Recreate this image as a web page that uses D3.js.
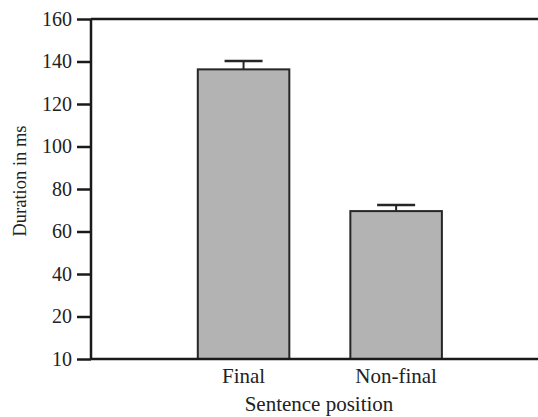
<!DOCTYPE html>
<html>
<head>
<meta charset="utf-8">
<script src="https://cdn.jsdelivr.net/npm/d3@7"></script>
<style>
  body { margin: 0; background: #fff; }
</style>
</head>
<body>
<div id="chart"></div>
<script>
// data
var categories = ["Final", "Non-final"];
var durations = [136.3, 69.6];
var errors = [3.9, 2.9];
var tickValues = [0, 20, 40, 60, 80, 100, 120, 140, 160];
var tickLabels = ["10", "20", "40", "60", "80", "100", "120", "140", "160"];

var width = 538, height = 417;
var margin = {top: 19, right: 0, bottom: 58, left: 91};
var fontFam = "Liberation Serif";

var svg = d3.select("#chart").append("svg")
    .attr("width", width)
    .attr("height", height)
    .attr("font-family", fontFam);

var x = d3.scaleLinear()
    .domain([0, 2.93])
    .range([margin.left, width - margin.right]);

var y = d3.scaleLinear()
    .domain([0, 160])
    .range([height - margin.bottom, margin.top]);

var barW = (x(1) - x(0)) * 0.6;

// bars
svg.selectAll(".bar")
    .data(durations)
    .enter().append("rect")
    .attr("class", "bar")
    .attr("x", function (d, i) { return x(i + 1) - barW / 2; })
    .attr("y", function (d) { return y(d); })
    .attr("width", barW)
    .attr("height", function (d) { return y(0) - y(d); })
    .attr("fill", "#b3b3b3")
    .attr("stroke", "#262626")
    .attr("stroke-width", 2);

// error bars (upper half only is visible)
var err = svg.selectAll(".err")
    .data(durations)
    .enter().append("g")
    .attr("class", "err")
    .attr("stroke", "#262626");

err.append("line")
    .attr("x1", function (d, i) { return x(i + 1); })
    .attr("x2", function (d, i) { return x(i + 1); })
    .attr("y1", function (d) { return y(d); })
    .attr("y2", function (d, i) { return y(d + errors[i]); })
    .attr("stroke-width", 2);

err.append("line")
    .attr("x1", function (d, i) { return x(i + 1) - 19; })
    .attr("x2", function (d, i) { return x(i + 1) + 19; })
    .attr("y1", function (d, i) { return y(d + errors[i]); })
    .attr("y2", function (d, i) { return y(d + errors[i]); })
    .attr("stroke-width", 2.5);

// y axis
var yAxis = d3.axisLeft(y)
    .tickValues(tickValues)
    .tickFormat(function (d, i) { return tickLabels[i]; })
    .tickSize(14)
    .tickPadding(5);

var gy = svg.append("g")
    .attr("transform", "translate(" + margin.left + ",0)")
    .call(yAxis)
    .attr("font-family", fontFam)
    .attr("font-size", 20);
gy.select(".domain").remove();
gy.selectAll(".tick line").attr("stroke", "#1a1a1a").attr("stroke-width", 2.5);
gy.selectAll(".tick text").attr("fill", "#222");

// frame: left, top and bottom lines
var frame = svg.append("g")
    .attr("stroke", "#1a1a1a")
    .attr("stroke-width", 2.5);
frame.append("line")
    .attr("x1", margin.left).attr("x2", margin.left)
    .attr("y1", y(160)).attr("y2", y(0));
frame.append("line")
    .attr("x1", margin.left).attr("x2", width)
    .attr("y1", y(160)).attr("y2", y(160));
frame.append("line")
    .attr("x1", margin.left).attr("x2", width)
    .attr("y1", y(0)).attr("y2", y(0));

// category labels
svg.selectAll(".cat")
    .data(categories)
    .enter().append("text")
    .attr("class", "cat")
    .attr("x", function (d, i) { return x(i + 1); })
    .attr("y", 383)
    .attr("text-anchor", "middle")
    .attr("font-size", 21)
    .attr("fill", "#222")
    .text(function (d) { return d; });

svg.append("text")
    .attr("x", 319)
    .attr("y", 411)
    .attr("text-anchor", "middle")
    .attr("font-size", 21)
    .attr("fill", "#222")
    .text("Sentence position");

svg.append("text")
    .attr("transform", "translate(26,181) rotate(-90)")
    .attr("text-anchor", "middle")
    .attr("font-size", 18.5)
    .attr("fill", "#222")
    .text("Duration in ms");
</script>
</body>
</html>
